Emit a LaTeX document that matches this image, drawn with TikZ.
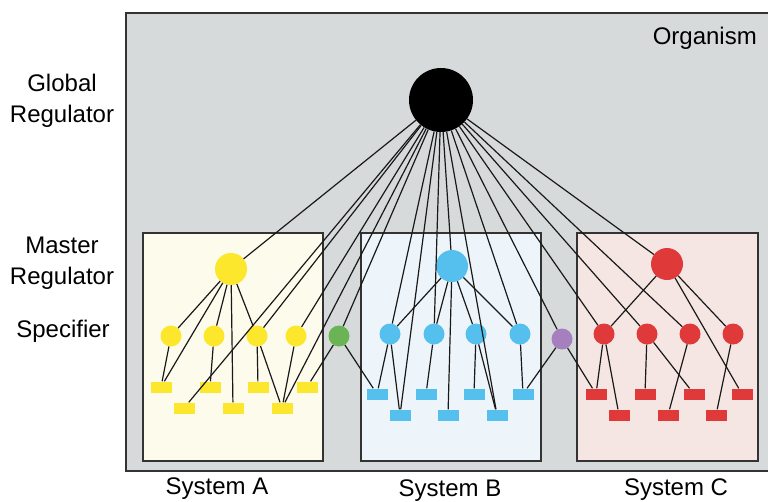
\documentclass[tikz,border=0pt]{standalone}
\usepackage{fontspec}
\setmainfont{Liberation Sans}
\definecolor{bggray}{HTML}{D6DADB}
\definecolor{boxA}{HTML}{FDFBEB}
\definecolor{boxB}{HTML}{EEF5FA}
\definecolor{boxC}{HTML}{F5E6E3}
\definecolor{cyel}{HTML}{FDE72C}
\definecolor{cblu}{HTML}{55C0EE}
\definecolor{cred}{HTML}{E0393A}
\definecolor{cgrn}{HTML}{6AB455}
\definecolor{cpur}{HTML}{A680BE}
\definecolor{bord}{HTML}{333333}
\tikzset{
  glob/.style={circle,fill=black,minimum size=64pt,inner sep=0pt},
  mast/.style={circle,minimum size=32pt,inner sep=0pt},
  spec/.style={circle,minimum size=21pt,inner sep=0pt},
  tgt/.style={rectangle,minimum width=21pt,minimum height=11pt,inner sep=0pt},
  sysbox/.style={draw=bord,line width=1.5pt},
  lab/.style={font=\fontsize{24}{29}\selectfont,text=black,align=center,inner sep=0pt},
  link/.style={draw=black!90,line width=1.2pt}
}
\begin{document}
\begin{tikzpicture}[x=1pt,y=-1pt]
\useasboundingbox (0,0) rectangle (768,501);
% frames
\fill[bggray] (126,13) rectangle (775,471);
\draw[bord,line width=1.5pt] (775,13) -- (126,13) -- (126,471) -- (775,471);
\node[sysbox,fill=boxA,minimum width=180pt,minimum height=228pt,inner sep=0pt] (boxa) at (233,347) {};
\node[sysbox,fill=boxB,minimum width=180pt,minimum height=228pt,inner sep=0pt] (boxb) at (451,347) {};
\node[sysbox,fill=boxC,minimum width=181pt,minimum height=228pt,inner sep=0pt] (boxc) at (667.5,347) {};
% labels
\node[lab,anchor=east] (org) at (757,38) {Organism};
\node[lab] (glab) at (62,101) {Global\\[2pt]Regulator};
\node[lab] (mlab) at (62,263) {Master\\[2pt]Regulator};
\node[lab] (slab) at (63,331) {Specifier};
\node[lab] (sysa) at (217,489) {System A};
\node[lab] (sysb) at (450,491) {System B};
\node[lab] (sysc) at (676,490) {System C};
% global
\node[glob] (G) at (441,100) {};
% system A
\node[mast,fill=cyel] (mA) at (231,269) {};
\foreach \n/\x in {1/171,2/214,3/257,4/296} \node[spec,fill=cyel] (sA\n) at (\x,336) {};
\foreach \n/\x in {1/161,2/210,3/258,4/307} \node[tgt,fill=cyel] (tA\n) at (\x,387) {};
\foreach \n/\x in {5/184,6/233,7/282} \node[tgt,fill=cyel] (tA\n) at (\x,408) {};
% system B
\node[mast,fill=cblu] (mB) at (452,266) {};
\foreach \n/\x in {1/390,2/434,3/476,4/520} \node[spec,fill=cblu] (sB\n) at (\x,334) {};
\foreach \n/\x in {1/377,2/426,3/474,4/523} \node[tgt,fill=cblu] (tB\n) at (\x,394) {};
\foreach \n/\x in {5/400,6/448,7/497} \node[tgt,fill=cblu] (tB\n) at (\x,415) {};
% system C
\node[mast,fill=cred] (mC) at (667,264) {};
\foreach \n/\x in {1/604,2/647,3/690,4/733} \node[spec,fill=cred] (sC\n) at (\x,334) {};
\foreach \n/\x in {1/596,2/645,3/694,4/742} \node[tgt,fill=cred] (tC\n) at (\x,394) {};
\foreach \n/\x in {5/619,6/668,7/716} \node[tgt,fill=cred] (tC\n) at (\x,415) {};
% cross-system nodes
\node[spec,fill=cgrn] (gn) at (339,336) {};
\node[spec,fill=cpur] (pu) at (562,339) {};
% global links
\foreach \t in {mA,tA5,sA3,sA4,tA7,gn,sB1,tB5,sB2,mB,tB7,sB4,pu,sC1,sC2,sC3,mC}
  \draw[link] (G) -- (\t);
% system A links
\foreach \a/\b in {mA/sA1,mA/tA1,mA/sA2,mA/tA6,mA/sA3,sA1/tA1,sA2/tA2,sA3/tA3,sA3/tA7,sA4/tA7,gn/tA4}
  \draw[link] (\a) -- (\b);
% system B links
\foreach \a/\b in {mB/sB1,mB/sB2,mB/tB6,mB/sB3,mB/sB4,sB1/tB1,sB1/tB5,sB2/tB2,sB3/tB3,sB3/tB7,sB4/tB4,gn/tB1,pu/tB4}
  \draw[link] (\a) -- (\b);
% system C links
\foreach \a/\b in {mC/sC1,mC/sC4,mC/tC4,sC1/tC1,sC1/tC5,sC2/tC2,sC2/tC3,sC3/tC6,sC4/tC7,pu/tC1}
  \draw[link] (\a) -- (\b);
\end{tikzpicture}
\end{document}
